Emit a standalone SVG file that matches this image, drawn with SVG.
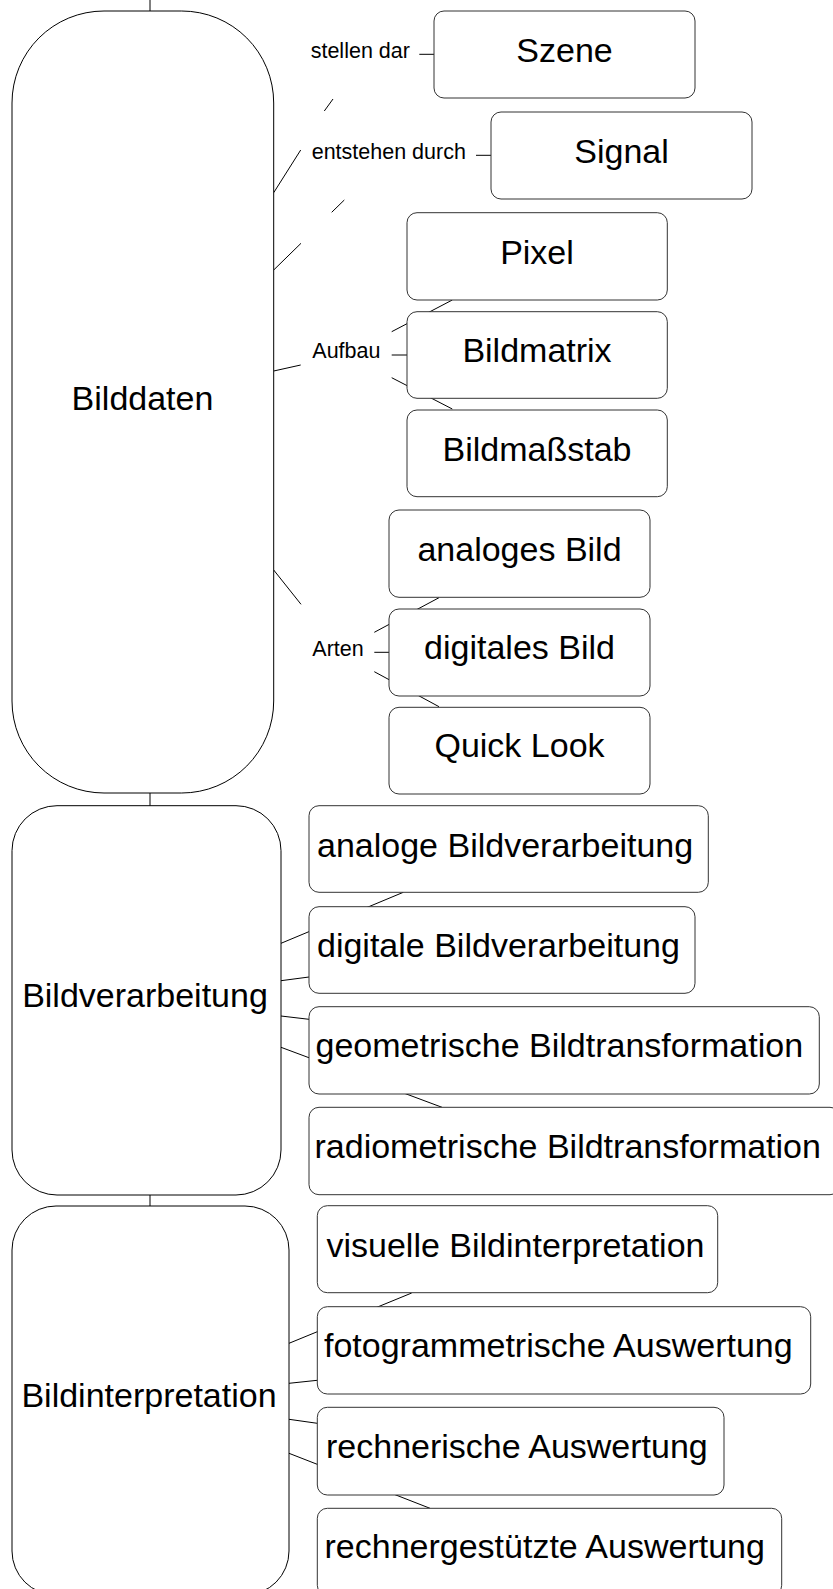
<svg xmlns="http://www.w3.org/2000/svg" width="833" height="1589" viewBox="0 0 833 1589">
  <style>
    .main { fill: #fff; stroke: #000; stroke-width: 1; }
    .box { fill: #fff; stroke: #333; stroke-width: 1; }
    .t { font-family: "Liberation Sans", Arial, sans-serif; font-size: 34px; fill: #000; }
    .c { text-anchor: middle; }
    .lbl { font-family: "Liberation Sans", Arial, sans-serif; font-size: 21.5px; fill: #000; }
    .ln { stroke: #000; stroke-width: 1; fill: none; }
  </style>
  <rect width="833" height="1589" fill="#fff"/>

  <!-- connectors (drawn first so the node boxes cover their hidden parts) -->
  <g id="connectors" class="ln">
    <line x1="150" y1="0" x2="150" y2="11"/>
    <line x1="150" y1="793" x2="150" y2="806"/>
    <line x1="150" y1="1195" x2="150" y2="1206"/>

    <!-- Bilddaten to relation labels -->
    <line x1="273.7" y1="192.7" x2="300.7" y2="150"/>
    <line x1="324.3" y1="111" x2="333" y2="99"/>
    <line x1="273.7" y1="270" x2="301" y2="243.3"/>
    <line x1="331.7" y1="212.3" x2="344.3" y2="200"/>
    <line x1="273.7" y1="371" x2="300.7" y2="365"/>
    <line x1="273.7" y1="570" x2="301" y2="604.3"/>

    <!-- relation labels to targets -->
    <line x1="419.3" y1="54.3" x2="434" y2="54.3"/>
    <line x1="476" y1="155.3" x2="491" y2="155.3"/>

    <line x1="391.7" y1="331.7" x2="452.3" y2="300"/>
    <line x1="391.7" y1="355" x2="407" y2="355"/>
    <line x1="391.7" y1="377.7" x2="452.3" y2="409"/>

    <line x1="374.3" y1="632.3" x2="439" y2="597.7"/>
    <line x1="374.3" y1="652.3" x2="389" y2="652.3"/>
    <line x1="374.3" y1="671.7" x2="439" y2="706.7"/>

    <!-- Bildverarbeitung branches -->
    <line x1="281" y1="943.3" x2="403.3" y2="892.3"/>
    <line x1="281" y1="980.7" x2="309" y2="977"/>
    <line x1="281" y1="1016" x2="309" y2="1019.3"/>
    <line x1="281" y1="1047.3" x2="442" y2="1107.3"/>

    <!-- Bildinterpretation branches -->
    <line x1="289" y1="1343.3" x2="411.7" y2="1293"/>
    <line x1="289" y1="1383.3" x2="317.3" y2="1380.3"/>
    <line x1="289" y1="1419.3" x2="317.3" y2="1423.3"/>
    <line x1="289" y1="1453.3" x2="430" y2="1508.3"/>
  </g>

  <!-- main topics -->
  <g id="bilddaten">
    <rect class="main" x="12" y="11" width="261.7" height="782" rx="92" ry="92"/>
    <text class="t c" x="142.5" y="410">Bilddaten</text>
  </g>
  <g id="bildverarbeitung">
    <rect class="main" x="12" y="805.7" width="269" height="389.3" rx="45" ry="45"/>
    <text class="t c" x="145" y="1007">Bildverarbeitung</text>
  </g>
  <g id="bildinterpretation">
    <rect class="main" x="12" y="1206" width="277" height="389" rx="44" ry="44"/>
    <text class="t c" x="149" y="1407">Bildinterpretation</text>
  </g>

  <!-- relation labels -->
  <g id="label-stellen-dar"><text class="lbl" x="310.7" y="58.3">stellen dar</text></g>
  <g id="label-entstehen-durch"><text class="lbl" x="311.7" y="159.3">entstehen durch</text></g>
  <g id="label-aufbau"><text class="lbl" x="312.3" y="357.7">Aufbau</text></g>
  <g id="label-arten"><text class="lbl" x="312.3" y="656">Arten</text></g>

  <!-- Bilddaten children -->
  <g id="szene">
    <rect class="box" x="434" y="11" width="261" height="87" rx="10"/>
    <text class="t c" x="564.5" y="62">Szene</text>
  </g>
  <g id="signal">
    <rect class="box" x="491" y="112" width="261" height="87" rx="10"/>
    <text class="t c" x="621.5" y="163">Signal</text>
  </g>
  <g id="pixel">
    <rect class="box" x="407" y="212.7" width="260.3" height="87.3" rx="10"/>
    <text class="t c" x="537" y="264">Pixel</text>
  </g>
  <g id="bildmatrix">
    <rect class="box" x="407" y="311.7" width="260.3" height="86.6" rx="10"/>
    <text class="t c" x="537" y="362">Bildmatrix</text>
  </g>
  <g id="bildmassstab">
    <rect class="box" x="407" y="410" width="260.3" height="86.7" rx="10"/>
    <text class="t c" x="537" y="461">Bildmaßstab</text>
  </g>
  <g id="analoges-bild">
    <rect class="box" x="389" y="510" width="261" height="87.3" rx="10"/>
    <text class="t c" x="519.5" y="560.7">analoges Bild</text>
  </g>
  <g id="digitales-bild">
    <rect class="box" x="389" y="609" width="261" height="87" rx="10"/>
    <text class="t c" x="519.5" y="659">digitales Bild</text>
  </g>
  <g id="quick-look">
    <rect class="box" x="389" y="707.3" width="261" height="86.7" rx="10"/>
    <text class="t c" x="519.5" y="757.3">Quick Look</text>
  </g>

  <!-- Bildverarbeitung children -->
  <g id="analoge-bildverarbeitung">
    <rect class="box" x="309" y="805.7" width="399.3" height="86.6" rx="10"/>
    <text class="t" x="317" y="856.5">analoge Bildverarbeitung</text>
  </g>
  <g id="digitale-bildverarbeitung">
    <rect class="box" x="309" y="906.7" width="386" height="86.6" rx="10"/>
    <text class="t" x="317" y="957">digitale Bildverarbeitung</text>
  </g>
  <g id="geometrische-bildtransformation">
    <rect class="box" x="309" y="1006.7" width="510.3" height="87.3" rx="10"/>
    <text class="t" x="315.5" y="1057">geometrische Bildtransformation</text>
  </g>
  <g id="radiometrische-bildtransformation">
    <rect class="box" x="309" y="1107.3" width="531" height="87.4" rx="10"/>
    <text class="t" x="314.5" y="1158.3">radiometrische Bildtransformation</text>
  </g>

  <!-- Bildinterpretation children -->
  <g id="visuelle-bildinterpretation">
    <rect class="box" x="317.3" y="1205.7" width="400.4" height="87" rx="10"/>
    <text class="t" x="326.5" y="1257.3">visuelle Bildinterpretation</text>
  </g>
  <g id="fotogrammetrische-auswertung">
    <rect class="box" x="317.3" y="1306.7" width="493.4" height="87.3" rx="10"/>
    <text class="t" x="324" y="1356.7">fotogrammetrische Auswertung</text>
  </g>
  <g id="rechnerische-auswertung">
    <rect class="box" x="317.3" y="1407.3" width="406.7" height="87.7" rx="10"/>
    <text class="t" x="326" y="1458.3">rechnerische Auswertung</text>
  </g>
  <g id="rechnergestuetzte-auswertung">
    <rect class="box" x="317.3" y="1508.3" width="464.4" height="87" rx="10"/>
    <text class="t" x="324.5" y="1558.3">rechnergestützte Auswertung</text>
  </g>
</svg>
